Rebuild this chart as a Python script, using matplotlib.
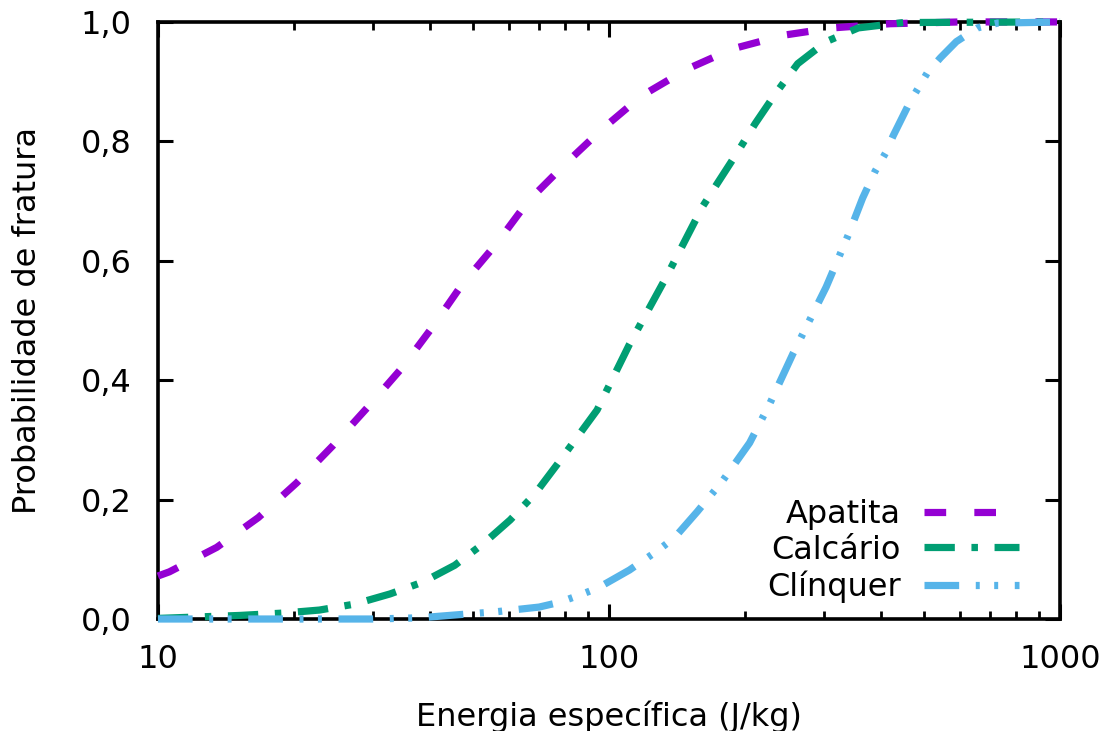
import matplotlib
matplotlib.use('Agg')
import matplotlib.pyplot as plt
from matplotlib.ticker import FixedLocator, FuncFormatter, LogLocator, NullFormatter

# specific energy (J/kg) and breakage probability read for each material
apatita_e = [10, 10.6, 13.5, 16.7, 20.3, 24.4, 29.2, 34.7, 40.7, 47.2, 56.5, 66.2,
             80.7, 96.4, 118, 149, 188, 245, 313, 420, 600, 1000]
apatita_p = [0.072, 0.079, 0.12, 0.17, 0.228, 0.29, 0.355, 0.42, 0.49, 0.56, 0.63, 0.70,
             0.765, 0.82, 0.876, 0.921, 0.955, 0.978, 0.99, 0.997, 1.0, 1.0]

calcario_e = [10, 15.2, 19, 22.8, 27.3, 32.7, 38.7, 45.5, 52.6, 60.4, 68.6, 76.6,
              94.1, 111, 134, 161, 174, 192, 211, 234, 262, 303, 357, 450, 1000]
calcario_p = [0.001, 0.006, 0.01, 0.015, 0.025, 0.042, 0.062, 0.09, 0.126, 0.166, 0.21,
              0.258, 0.35, 0.46, 0.573, 0.69, 0.73, 0.78, 0.83, 0.88, 0.93, 0.967,
              0.99, 0.999, 1.0]

clinquer_e = [10, 30, 38, 46, 56, 70, 77.7, 86, 94.5, 111, 129, 140, 157, 178, 188,
              205, 227, 256, 303, 340, 365, 389, 410, 427, 464, 508, 543, 589, 656,
              727, 1000]
clinquer_p = [0.0, 0.0, 0.002, 0.007, 0.012, 0.02, 0.028, 0.04, 0.052, 0.082, 0.116,
              0.137, 0.18, 0.23, 0.255, 0.295, 0.36, 0.445, 0.556, 0.645, 0.705, 0.75,
              0.78, 0.81, 0.865, 0.915, 0.94, 0.967, 0.99, 0.998, 1.0]

y_ticks = [0.0, 0.2, 0.4, 0.6, 0.8, 1.0]
x_ticks = [10, 100, 1000]

plt.rcParams['font.family'] = ['DejaVu Sans']
plt.rcParams['font.size'] = 23

fig = plt.figure(figsize=(11.1, 7.31), dpi=100)
ax = fig.add_axes([0.1423, 0.1532, 0.8127, 0.8168])

lw = 5.2
series = [
    (apatita_e, apatita_p, 'Apatita', '#9400D3', (3.0, 3.9)),
    (calcario_e, calcario_p, 'Calcário', '#009E73', (4.2, 2.3, 0.9, 2.3)),
    (clinquer_e, clinquer_p, 'Clínquer', '#56B4E9', (4.8, 2.3, 0.55, 2.0, 0.55, 2.3)),
]
for e, p, name, color, dashes in series:
    line, = ax.plot(e, p, color=color, lw=lw, label=name, clip_on=False, zorder=3)
    line.set_dashes(dashes)
    line.set_dash_capstyle('butt')

ax.set_xscale('log')
ax.set_xlim(10, 1000)
ax.set_ylim(0, 1)

ax.xaxis.set_major_locator(FixedLocator(x_ticks))
ax.xaxis.set_major_formatter(FuncFormatter(lambda v, pos: '%d' % v))
ax.xaxis.set_minor_locator(LogLocator(base=10, subs=range(2, 10)))
ax.xaxis.set_minor_formatter(NullFormatter())
ax.yaxis.set_major_locator(FixedLocator(y_ticks))
ax.yaxis.set_major_formatter(FuncFormatter(lambda v, pos: ('%.1f' % v).replace('.', ',')))

for s in ax.spines.values():
    s.set_linewidth(2.6)
ax.tick_params(which='major', direction='in', length=11, width=2.2,
               top=True, right=True)
ax.tick_params(which='minor', direction='in', length=6, width=2.0,
               top=True, right=True)
ax.tick_params(axis='x', which='major', pad=18)
ax.tick_params(axis='y', which='major', pad=19)

ax.set_xlabel('Energia específica (J/kg)', labelpad=18)
ax.set_ylabel('Probabilidade de fratura', labelpad=27)

ax.legend(loc='lower right', bbox_to_anchor=(0.955, 0.027), frameon=False,
          markerfirst=False, handlelength=3.0, handletextpad=0.72,
          labelspacing=0.15, borderpad=0, borderaxespad=0)

fig.savefig('out.png', dpi=100)
